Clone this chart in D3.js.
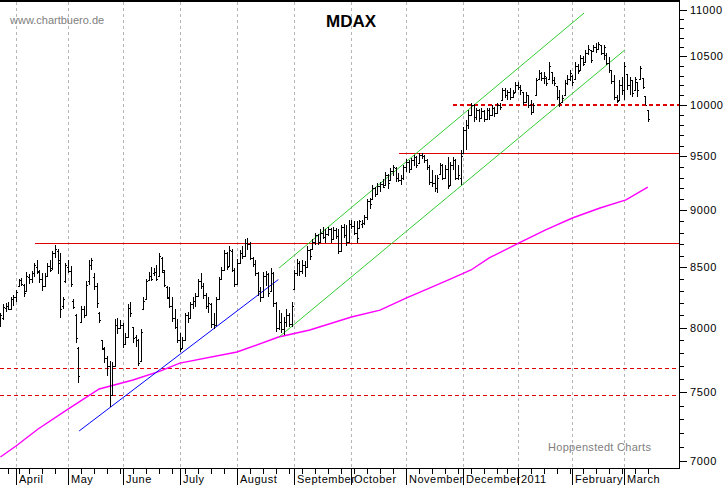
<!DOCTYPE html>
<html><head><meta charset="utf-8">
<script src="https://cdn.jsdelivr.net/npm/d3@7"></script>
<style>html,body{margin:0;padding:0;background:#fff;}svg{display:block;}</style>
</head><body><div id="chart"></div>
<script>
// ---- DATA ----
const title = "MDAX";
const startDate = "2010-03-24";
const holidays = ["2010-04-02","2010-04-05","2010-12-24","2010-12-31"];
const monthLabels = ["April","May","June","July","August","September","October","November","December","2011","February","March"];
const yTickValues = [7000,7500,8000,8500,9000,9500,10000,10500,11000];

const open = [8030,8080,8160,8180,8150,8230,8250,8340,8390,8350,8300,8420,8400,8450,8500,8460,8400,8340,8430,8510,8490,8620,8640,8560,8180,8380,8500,8470,8220,8100,7840,8050,8150,8100,8380,8520,8420,8340,8120,7900,7830,7760,7700,7480,7700,8020,8000,8020,7870,7930,8160,8010,7930,7900,7740,8150,8230,8390,8430,8450,8460,8430,8580,8460,8330,8240,8180,8080,8010,7900,7840,7900,8100,8080,8190,8220,8260,8380,8340,8270,8180,8190,8030,8020,8230,8400,8480,8620,8510,8640,8480,8360,8540,8620,8600,8710,8700,8580,8530,8450,8300,8250,8430,8440,8300,8450,8200,8000,8050,7990,8050,8100,8030,8320,8450,8540,8470,8520,8500,8650,8660,8720,8780,8720,8800,8760,8790,8830,8740,8820,8770,8640,8850,8780,8720,8880,8860,8800,8840,8880,8890,8940,9080,9100,9200,9150,9220,9240,9230,9320,9280,9360,9390,9300,9280,9300,9400,9450,9380,9460,9490,9440,9510,9500,9460,9400,9260,9250,9200,9330,9420,9300,9380,9230,9420,9460,9300,9300,9530,9750,9800,9900,10000,9880,9950,9870,9940,9860,9950,9900,9970,9920,10000,10050,10150,10100,10130,10080,10130,10200,10180,10130,10030,10100,10000,9930,10100,10260,10330,10280,10280,10260,10340,10250,10190,10080,10030,10100,10220,10260,10300,10260,10400,10360,10480,10440,10540,10570,10560,10600,10580,10620,10540,10520,10430,10360,10240,10080,10050,10200,10150,10320,10200,10250,10150,10230,10260,10280,10090,9950];
const high = [8120,8190,8200,8210,8250,8270,8310,8400,8410,8360,8460,8440,8470,8540,8560,8480,8450,8450,8540,8560,8640,8690,8660,8620,8250,8540,8560,8510,8230,8110,7850,8180,8180,8380,8560,8580,8450,8370,8130,7900,7850,7780,7740,7730,8070,8080,8060,8040,7960,8190,8210,8010,7940,7910,7990,8250,8400,8460,8500,8490,8520,8620,8590,8480,8340,8330,8250,8150,8070,7960,7930,8120,8130,8210,8250,8280,8400,8450,8370,8280,8250,8200,8120,8250,8420,8500,8650,8630,8680,8660,8490,8570,8650,8680,8740,8750,8720,8590,8560,8460,8330,8460,8470,8450,8490,8460,8210,8140,8120,8090,8150,8120,8210,8480,8570,8550,8560,8550,8680,8660,8740,8800,8790,8830,8850,8830,8850,8840,8850,8840,8830,8870,8880,8870,8910,8910,8900,8900,8910,8910,8960,9100,9110,9230,9210,9250,9260,9290,9350,9330,9390,9420,9400,9340,9320,9420,9470,9460,9480,9510,9500,9530,9530,9510,9470,9420,9370,9320,9320,9440,9430,9420,9490,9450,9490,9470,9420,9560,9780,9850,9950,10020,10010,9970,9960,9970,9950,9970,9970,10000,9980,10020,10020,10170,10170,10150,10170,10150,10230,10230,10200,10130,10130,10100,10050,10020,10280,10360,10340,10340,10290,10440,10340,10290,10190,10150,10100,10250,10310,10360,10310,10440,10420,10520,10500,10570,10620,10570,10620,10640,10650,10620,10620,10540,10490,10360,10310,10100,10250,10290,10440,10320,10290,10250,10290,10230,10400,10280,10090,9950];
const low = [8010,8060,8130,8140,8140,8180,8210,8330,8340,8250,8290,8360,8370,8420,8440,8370,8300,8330,8420,8460,8480,8580,8440,8080,8150,8370,8450,8330,8150,7880,7570,8040,8080,8100,8350,8480,8310,8160,8040,7820,7720,7620,7390,7480,7700,7950,7990,7840,7870,7930,8090,7880,7850,7700,7740,8150,8230,8390,8380,8430,8380,8430,8450,8330,8230,8160,8050,7990,7880,7810,7830,7900,8040,8080,8150,8170,8250,8320,8230,8150,8120,8000,7990,8020,8230,8400,8480,8480,8510,8460,8330,8360,8540,8570,8600,8650,8560,8500,8430,8260,8210,8250,8340,8250,8300,8170,7970,7980,7960,7940,8010,8010,8010,8310,8430,8430,8440,8420,8500,8560,8650,8690,8690,8710,8740,8710,8770,8710,8740,8740,8610,8640,8750,8680,8720,8830,8780,8710,8830,8840,8870,8910,9010,9100,9120,9140,9170,9200,9230,9190,9280,9310,9260,9260,9230,9280,9350,9340,9370,9410,9390,9440,9470,9440,9370,9230,9210,9170,9160,9330,9280,9300,9190,9230,9370,9280,9280,9230,9530,9560,9760,9900,9830,9850,9830,9870,9830,9860,9850,9900,9880,9920,9950,10050,10070,10050,10050,10070,10130,10150,10100,10000,10020,9970,9900,9920,10100,10260,10240,10210,10190,10260,10210,10190,10050,9980,10020,10100,10200,10240,10190,10260,10320,10360,10400,10440,10520,10430,10550,10540,10570,10520,10460,10410,10330,10210,10050,10020,10050,10100,10050,10150,10100,10080,10150,10080,10250,10160,10000,9830];
const close = [8100,8170,8180,8150,8230,8250,8290,8390,8360,8280,8430,8400,8450,8520,8470,8400,8340,8430,8510,8480,8620,8660,8540,8150,8230,8520,8470,8360,8170,7920,7620,8150,8100,8350,8520,8560,8340,8200,8060,7840,7760,7700,7480,7700,8020,8000,8020,7870,7930,8160,8120,7920,7900,7720,7970,8220,8380,8430,8400,8460,8400,8600,8480,8350,8250,8180,8080,8010,7900,7830,7900,8100,8080,8190,8220,8260,8380,8340,8270,8180,8200,8030,8020,8230,8400,8480,8620,8500,8650,8480,8360,8540,8620,8600,8710,8700,8580,8530,8450,8300,8250,8430,8440,8280,8450,8200,8000,8050,7990,8050,8100,8030,8180,8450,8540,8470,8520,8500,8650,8600,8720,8780,8720,8800,8760,8790,8830,8740,8820,8770,8640,8850,8780,8720,8880,8860,8800,8750,8900,8890,8940,9080,9060,9200,9150,9220,9240,9210,9320,9250,9360,9400,9300,9280,9300,9400,9450,9380,9460,9490,9420,9510,9500,9460,9400,9260,9250,9200,9300,9420,9300,9380,9220,9420,9460,9300,9320,9500,9750,9800,9900,10000,9880,9950,9870,9940,9860,9950,9900,9970,9920,10000,9980,10150,10100,10130,10080,10120,10200,10180,10150,10030,10100,10000,9930,10000,10250,10330,10280,10300,10220,10400,10250,10220,10080,10020,10070,10220,10260,10330,10230,10400,10350,10480,10420,10540,10580,10460,10600,10580,10630,10540,10600,10430,10360,10240,10080,10040,10200,10150,10400,10200,10250,10120,10260,10150,10380,10180,10000,9860];

// 200-day moving average, read at selected bar indices
const maIndex = [0,6,14.5,26,38,51,61.4,69,91,107,119,135,146,156,165,173,181,188,199.5,209.5,220,230.6,240.6,249];
const maValue = [7028,7106,7228,7374,7524,7592,7660,7722,7808,7926,7982,8087,8143,8242,8325,8400,8477,8580,8710,8823,8930,9020,9093,9210];

// trendlines: [startIndex, startValue, endIndex, endValue]
const blueLine = [30.3, 7214, 106.9, 8396];
const greenUpper = [107.2, 8494, 224.5, 10967];
const greenLower = [107.2, 7927, 240.2, 10569];
// horizontal levels
const solidLevels = [{v: 8710, from: 13.3}, {v: 9530, from: 153.3}];
const dashedLevels = [{v: 10000, from: 174.2, w: 2}, {v: 7683, from: -1, w: 1}, {v: 7478, from: -1, w: 1}];

// ---- CHART ----
const W = 723, H = 485;
const plotRight = 679.5, plotBottom = 468;
const svg = d3.select("#chart").append("svg").attr("width", W).attr("height", H)
  .style("font-family", "'Liberation Sans', Arial, sans-serif");
svg.append("rect").attr("width", W).attr("height", H).attr("fill", "#fff");

// trading days
const hol = new Set(holidays);
const dates = [];
{
  let d = new Date(startDate + "T12:00:00Z");
  while (dates.length < close.length) {
    const wd = d.getUTCDay();
    const key = d.toISOString().slice(0, 10);
    if (wd !== 0 && wd !== 6 && !hol.has(key)) dates.push(new Date(d));
    d = new Date(d.getTime() + 86400000);
  }
}
const x = d3.scaleLinear().domain([0, close.length - 1]).range([0.4, 0.4 + 2.6 * (close.length - 1)]);
const y = d3.scaleLog().domain([7000, 11000]).range([461, 10]);

const monthIdx = [], weekIdx = [];
dates.forEach((d, i) => {
  if (i === 0) return;
  const p = dates[i - 1];
  if (d.getUTCMonth() !== p.getUTCMonth()) monthIdx.push(i);
  else if (d.getUTCDay() < p.getUTCDay() || (d - p) > 3 * 86400000) weekIdx.push(i);
});
if (dates[0].getUTCDay() === 1) weekIdx.unshift(0);

const px = v => Math.round(v) + 0.5;
svg.append("clipPath").attr("id", "plot").append("rect").attr("x", 0).attr("y", 0).attr("width", plotRight).attr("height", plotBottom);

// gridlines
svg.append("g").selectAll("line").data(monthIdx).join("line")
  .attr("x1", i => px(x(i))).attr("x2", i => px(x(i)))
  .attr("y1", 2).attr("y2", plotBottom)
  .attr("stroke", "#b4b4b4").attr("stroke-width", 1).attr("stroke-dasharray", "3,3")
  .attr("shape-rendering", "crispEdges");

const g = svg.append("g").attr("clip-path", "url(#plot)");

// horizontal levels
g.selectAll(".solid").data(solidLevels).join("line")
  .attr("x1", d => x(d.from)).attr("x2", plotRight)
  .attr("y1", d => px(y(d.v))).attr("y2", d => px(y(d.v)))
  .attr("stroke", "#e00000").attr("stroke-width", 1).attr("shape-rendering", "crispEdges");
g.selectAll(".dashed").data(dashedLevels).join("line")
  .attr("x1", d => d.from < 0 ? 0 : x(d.from)).attr("x2", plotRight)
  .attr("y1", d => d.w === 2 ? Math.round(y(d.v)) : px(y(d.v)))
  .attr("y2", d => d.w === 2 ? Math.round(y(d.v)) : px(y(d.v)))
  .attr("stroke", "#e00000").attr("stroke-width", d => d.w).attr("stroke-dasharray", "4,3")
  .attr("shape-rendering", "crispEdges");

// moving average
const maPts = maIndex.map((i, k) => [i, maValue[k]]);
g.append("path").datum(maPts)
  .attr("d", d3.line().x(d => x(d[0])).y(d => y(d[1])))
  .attr("fill", "none").attr("stroke", "#ff00ff").attr("stroke-width", 1.4);

// trendlines
function trend(arr, color) {
  g.append("line")
    .attr("x1", x(arr[0])).attr("y1", y(arr[1]))
    .attr("x2", x(arr[2])).attr("y2", y(arr[3]))
    .attr("stroke", color).attr("stroke-width", 1);
}
trend(blueLine, "#0000ff");
trend(greenUpper, "#33cc33");
trend(greenLower, "#33cc33");

// OHLC bars
const bars = g.append("g").attr("stroke", "#000").attr("stroke-width", 1).attr("shape-rendering", "crispEdges");
close.forEach((c, i) => {
  const cx = Math.round(x(i)) + 0.5;
  bars.append("line").attr("x1", cx).attr("x2", cx).attr("y1", Math.round(y(high[i]))).attr("y2", Math.round(y(low[i])));
  bars.append("line").attr("x1", cx - 1.5).attr("x2", cx).attr("y1", px(y(open[i]))).attr("y2", px(y(open[i])));
  bars.append("line").attr("x1", cx).attr("x2", cx + 1.5).attr("y1", px(y(c))).attr("y2", px(y(c)));
});

// frame
svg.append("line").attr("x1", 0).attr("x2", plotRight).attr("y1", 1).attr("y2", 1)
  .attr("stroke", "#000").attr("stroke-width", 2).attr("shape-rendering", "crispEdges");
svg.append("line").attr("x1", plotRight).attr("x2", plotRight).attr("y1", 0).attr("y2", plotBottom + 0.5)
  .attr("stroke", "#000").attr("stroke-width", 1).attr("shape-rendering", "crispEdges");
svg.append("line").attr("x1", 0).attr("x2", plotRight).attr("y1", plotBottom + 0.5).attr("y2", plotBottom + 0.5)
  .attr("stroke", "#000").attr("stroke-width", 1).attr("shape-rendering", "crispEdges");

// right axis
const minorTicks = d3.range(7000, 11001, 100).filter(v => !yTickValues.includes(v));
const ax = svg.append("g").attr("stroke", "#000").attr("shape-rendering", "crispEdges");
ax.selectAll(".mn").data(minorTicks).join("line")
  .attr("x1", plotRight).attr("x2", plotRight + 4).attr("y1", v => px(y(v))).attr("y2", v => px(y(v)));
ax.selectAll(".mj").data(yTickValues).join("line")
  .attr("x1", plotRight).attr("x2", plotRight + 7).attr("y1", v => px(y(v))).attr("y2", v => px(y(v)));
svg.append("g").selectAll("text").data(yTickValues).join("text")
  .attr("x", 690).attr("y", v => y(v) + 4).text(d => d)
  .attr("font-size", 11).attr("letter-spacing", 0.6).attr("fill", "#000");

// bottom axis
const bx = svg.append("g").attr("stroke", "#000").attr("shape-rendering", "crispEdges");
bx.selectAll(".wk").data(weekIdx).join("line")
  .attr("x1", i => px(x(i))).attr("x2", i => px(x(i))).attr("y1", plotBottom).attr("y2", plotBottom + 6);
bx.selectAll(".mo").data(monthIdx).join("line")
  .attr("x1", i => px(x(i))).attr("x2", i => px(x(i))).attr("y1", plotBottom).attr("y2", H);
svg.append("g").selectAll("text").data(monthIdx).join("text")
  .attr("x", i => Math.round(x(i)) + 3).attr("y", 483)
  .text((i, k) => monthLabels[k])
  .attr("font-size", 11).attr("letter-spacing", 0.5).attr("fill", "#000");

// texts
svg.append("text").attr("x", 351).attr("y", 27).attr("text-anchor", "middle")
  .attr("font-size", 17).attr("font-weight", "bold").text(title);
svg.append("text").attr("x", 10).attr("y", 24).attr("font-size", 11).attr("fill", "#808080").text("www.chartbuero.de");
svg.append("text").attr("x", 548).attr("y", 451).attr("font-size", 11).attr("fill", "#808080")
  .attr("letter-spacing", 0.3).text("Hoppenstedt Charts");
</script>
</body></html>
